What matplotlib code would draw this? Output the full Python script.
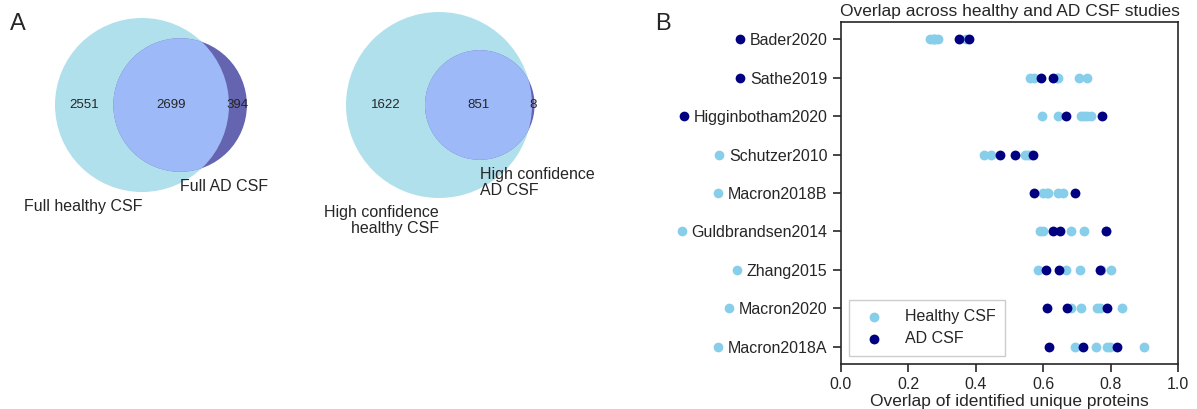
import numpy as np
import matplotlib
matplotlib.use("Agg")
import matplotlib.pyplot as plt
from matplotlib.patches import Circle
from matplotlib.lines import Line2D

plt.rcParams["font.family"] = ["Liberation Sans", "DejaVu Sans"]
plt.rcParams["text.color"] = "0.15"
plt.rcParams["axes.edgecolor"] = "0.15"
plt.rcParams["axes.labelcolor"] = "0.15"
plt.rcParams["xtick.color"] = "0.15"
plt.rcParams["ytick.color"] = "0.15"

# Venn counts: (only A, only B, both)
full_counts = (2551, 394, 2699)
full_names = ("Full healthy CSF", "Full AD CSF")
hc_counts = (1622, 8, 851)
hc_names = ("High confidence\nhealthy CSF", "High confidence\nAD CSF")

# Study overlap values
studies = ["Bader2020", "Sathe2019", "Higginbotham2020", "Schutzer2010",
           "Macron2018B", "Guldbrandsen2014", "Zhang2015", "Macron2020",
           "Macron2018A"]
study_group = ["AD", "AD", "AD", "Healthy", "Healthy", "Healthy",
               "Healthy", "Healthy", "Healthy"]
healthy_overlap = [
    [0.265, 0.272, 0.276, 0.28, 0.289, 0.37],
    [0.56, 0.573, 0.64, 0.645, 0.705, 0.731],
    [0.597, 0.644, 0.712, 0.72, 0.729, 0.74],
    [0.424, 0.444, 0.547, 0.556, 0.565],
    [0.60, 0.61, 0.615, 0.645, 0.659],
    [0.59, 0.60, 0.682, 0.722, 0.786],
    [0.585, 0.667, 0.709, 0.772, 0.80],
    [0.682, 0.711, 0.76, 0.768, 0.832],
    [0.694, 0.756, 0.788, 0.798, 0.899],
]
ad_overlap = [
    [0.35, 0.38],
    [0.594, 0.629],
    [0.668, 0.773],
    [0.471, 0.516, 0.571],
    [0.574, 0.694],
    [0.628, 0.65, 0.786],
    [0.608, 0.648, 0.768],
    [0.612, 0.669, 0.79],
    [0.618, 0.717, 0.819],
]

healthy_col = "skyblue"
ad_col = "navy"
venn_cols = ("#b1e0ed", "#6464b0", "#9db9f7")


def lens_area(r1, r2, d):
    if d >= r1 + r2:
        return 0.0
    if d <= abs(r1 - r2):
        return np.pi * min(r1, r2) ** 2
    a1 = r1 ** 2 * np.arccos((d ** 2 + r1 ** 2 - r2 ** 2) / (2 * d * r1))
    a2 = r2 ** 2 * np.arccos((d ** 2 + r2 ** 2 - r1 ** 2) / (2 * d * r2))
    a3 = 0.5 * np.sqrt((-d + r1 + r2) * (d + r1 - r2) * (d - r1 + r2) * (d + r1 + r2))
    return a1 + a2 - a3


def center_distance(r1, r2, target):
    lo, hi = abs(r1 - r2), r1 + r2
    for _ in range(80):
        mid = 0.5 * (lo + hi)
        if lens_area(r1, r2, mid) > target:
            lo = mid
        else:
            hi = mid
    return 0.5 * (lo + hi)


def draw_venn(ax, counts, names, cx, cy, ra):
    only_a, only_b, both = counts
    k = ra / np.sqrt((only_a + both) / np.pi)
    rb = k * np.sqrt((only_b + both) / np.pi)
    d = center_distance(ra, rb, k ** 2 * both)
    bx = cx + d

    ca = Circle((cx, cy), ra, facecolor=venn_cols[0], edgecolor="none")
    cb = Circle((bx, cy), rb, facecolor=venn_cols[1], edgecolor="none")
    ax.add_patch(ca)
    ax.add_patch(cb)
    mid = Circle((bx, cy), rb, facecolor=venn_cols[2], edgecolor="none")
    ax.add_patch(mid)
    mid.set_clip_path(ca)

    a_left, a_right = cx - ra, cx + ra
    b_left, b_right = bx - rb, bx + rb
    ax.text((a_left + b_left) / 2, cy, str(only_a), ha="center", va="center", fontsize=9.5)
    ax.text((b_left + a_right) / 2, cy, str(both), ha="center", va="center", fontsize=9.5)
    ax.text((a_right + b_right) / 2, cy, str(only_b), ha="center", va="center", fontsize=9.5)

    ax.text(cx, cy + ra + 7, names[0], ha="right", va="top", fontsize=11.5,
            multialignment="right", linespacing=1.1)
    ax.text(bx, cy + rb + 7, names[1], ha="left", va="top", fontsize=11.5,
            multialignment="left", linespacing=1.1)


fig = plt.figure(figsize=(11.97, 4.09), dpi=100)

# left panel in pixel units
vax = fig.add_axes([0, 0, 640 / 1197, 1])
vax.set_xlim(0, 640)
vax.set_ylim(409, 0)
vax.axis("off")
draw_venn(vax, full_counts, full_names, 142, 105, 87)
draw_venn(vax, hc_counts, hc_names, 439, 105, 93)

fig.text(10 / 1197, 1 - 24 / 409, "A", fontsize=17, va="center", ha="left")
fig.text(655 / 1197, 1 - 24 / 409, "B", fontsize=17, va="center", ha="left")

# right panel
ax = fig.add_axes([840.7 / 1197, 1 - 364 / 409, 337.6 / 1197, 342 / 409])
for i in range(len(studies)):
    ax.scatter(healthy_overlap[i], [i] * len(healthy_overlap[i]), s=50,
               color=healthy_col, linewidths=0, zorder=2,
               label="Healthy CSF" if i == 0 else None)
for i in range(len(studies)):
    ax.scatter(ad_overlap[i], [i] * len(ad_overlap[i]), s=50,
               color=ad_col, linewidths=0, zorder=3,
               label="AD CSF" if i == 0 else None)

ax.set_xlim(0, 1)
ax.set_ylim(len(studies) - 0.55, -0.45)
ax.set_yticks(range(len(studies)))
ax.set_yticklabels(studies, fontsize=11.5)
ax.set_xticks(np.arange(0, 1.01, 0.2))
ax.set_xticklabels([f"{v:.1f}" for v in np.arange(0, 1.01, 0.2)], fontsize=11.5)
ax.tick_params(length=6, width=1.2)
for s in ax.spines.values():
    s.set_linewidth(1.2)
ax.set_title("Overlap across healthy and AD CSF studies", fontsize=12.5, pad=4)
ax.set_xlabel("Overlap of identified unique proteins", fontsize=12.5, labelpad=1)

leg = ax.legend(loc="lower left", fontsize=11.5, handletextpad=0.9,
                borderpad=0.6, labelspacing=0.45, fancybox=False,
                edgecolor="0.8", framealpha=1)

# coloured dot in front of each study name
fig.canvas.draw()
renderer = fig.canvas.get_renderer()
W, H = fig.bbox.width, fig.bbox.height
for i, (lab, grp) in enumerate(zip(ax.get_yticklabels(), study_group)):
    bb = lab.get_window_extent(renderer)
    px = bb.x0 - 10
    py = ax.transData.transform((0, i))[1]
    fig.add_artist(Line2D([px / W], [py / H], marker="o", markersize=7,
                          markeredgewidth=0, linestyle="none",
                          color=ad_col if grp == "AD" else healthy_col,
                          transform=fig.transFigure))

fig.savefig("out.png", dpi=100)
